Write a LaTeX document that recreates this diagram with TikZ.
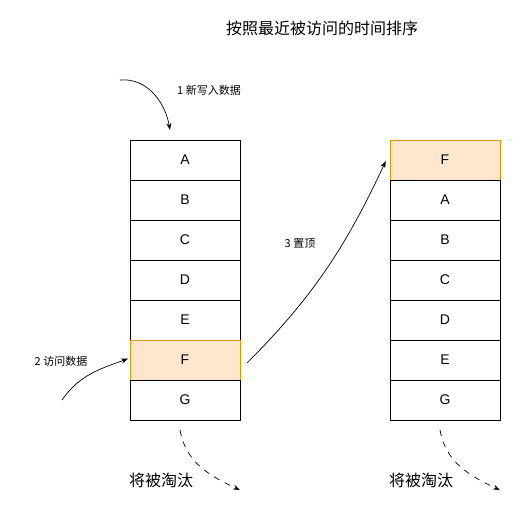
\documentclass[tikz,border=0pt]{standalone}
\usepackage{fontspec}
\setmainfont{Liberation Sans}
\newfontfamily\cjk{Noto Sans CJK SC}
\usetikzlibrary{arrows.meta,positioning}
\definecolor{hotfill}{HTML}{FFE6CC}
\definecolor{hotline}{HTML}{D79B00}
\begin{document}
\begin{tikzpicture}[x=1pt,y=1pt,font=\fontsize{14}{16}\selectfont,
  cell/.style={draw,line width=0.8pt,minimum width=110pt,minimum height=40pt,inner sep=0pt,outer sep=0pt},
  hot/.style={cell,fill=hotfill,draw=hotline},
  lbl/.style={font=\cjk\fontsize{11}{13}\selectfont},
  big/.style={font=\cjk\fontsize{16}{18}\selectfont},
  arr/.style={-{Stealth[length=7pt,width=5pt]},line width=0.7pt},
  node distance=0pt]
  \useasboundingbox (0,0) rectangle (521,512);
  \node[big](title) at (322,484){按照最近被访问的时间排序};
  % left list
  \node[cell](a1) at (185,352){A};
  \node[cell,below=of a1](b1){B};
  \node[cell,below=of b1](c1){C};
  \node[cell,below=of c1](d1){D};
  \node[cell,below=of d1](e1){E};
  \node[hot,below=of e1](f1){F};
  \node[cell,below=of f1](g1){G};
  % right list
  \node[hot](f2) at (445,352){F};
  \node[cell,below=of f2](a2){A};
  \node[cell,below=of a2](b2){B};
  \node[cell,below=of b2](c2){C};
  \node[cell,below=of c2](d2){D};
  \node[cell,below=of d2](e2){E};
  \node[cell,below=of e2](g2){G};
  % labels
  \node[lbl](l1) at (209,422){1 新写入数据};
  \node[lbl](l2) at (61,151){2 访问数据};
  \node[lbl](l3) at (300,268){3 置顶};
  \node[big](out1) at (161,32){将被淘汰};
  \node[big](out2) at (421,32){将被淘汰};
  % arrows
  \coordinate(in1) at (120,432);\coordinate(in1e) at (170,382);
  \coordinate(in2) at (62,112);
  \coordinate(d1s) at (180,82);\coordinate(d1e) at (240,22);
  \coordinate(d2s) at (440,82);\coordinate(d2e) at (500,22);
  \draw[arr](in1) to[out=5,in=100] (in1e);
  \draw[arr,shorten >=2pt](in2) to[out=55,in=200] ([yshift=2pt]f1.west);
  \draw[arr,shorten <=10pt,shorten >=10pt]([yshift=-10pt]f1.east) to[out=45,in=245] ([yshift=8pt]f2.west);
  \draw[arr,dashed,dash pattern=on 6pt off 6pt](d1s) to[out=-80,in=155] (d1e);
  \draw[arr,dashed,dash pattern=on 6pt off 6pt](d2s) to[out=-80,in=155] (d2e);
\end{tikzpicture}
\end{document}
